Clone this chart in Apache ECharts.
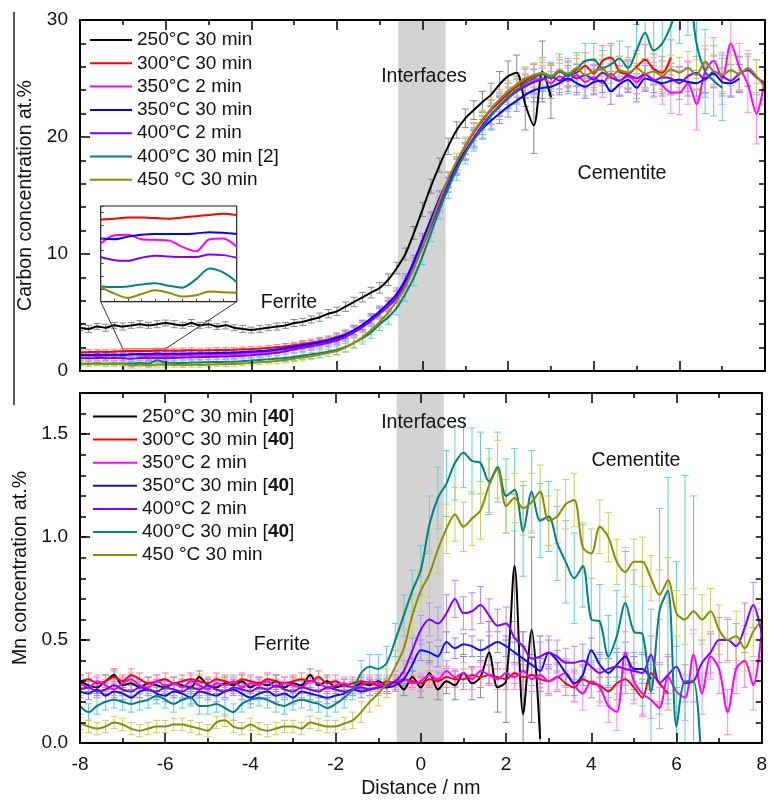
<!DOCTYPE html>
<html><head><meta charset="utf-8">
<script src="https://cdn.jsdelivr.net/npm/echarts@6/dist/echarts.min.js"></script>
<style>html,body{margin:0;padding:0;background:#fff}#c{width:770px;height:803px}</style>
</head><body><div id="c"></div>
<script>
// ---------------- DATA ----------------
const DIST = [-8,-7.8,-7.6,-7.4,-7.2,-7,-6.8,-6.6,-6.4,-6.2,
 -6,-5.8,-5.6,-5.4,-5.2,-5,-4.8,-4.6,-4.4,-4.2,
 -4,-3.8,-3.6,-3.4,-3.2,-3,-2.8,-2.6,-2.4,-2.2,
 -2,-1.8,-1.6,-1.4,-1.2,-1,-0.8,-0.6,-0.4,-0.2,
 0,0.2,0.4,0.6,0.8,1,1.2,1.4,1.6,1.8,
 2,2.2,2.4,2.6,2.8,3,3.2,3.4,3.6,3.8,
 4,4.2,4.4,4.6,4.8,5,5.2,5.4,5.6,5.8,
 6,6.2,6.4,6.6,6.8,7,7.2,7.4,7.6,7.8,
 8];
const X_TICKS = [-8,-6,-4,-2,0,2,4,6,8];
const CARBON_NAMES = ['250°C 30 min','300°C 30 min','350°C 2 min','350°C 30 min','400°C 2 min','400°C 30 min [2]','450 °C 30 min'];
const MN_NAMES = ['250°C 30 min [40]','300°C 30 min [40]','350°C 2 min','350°C 30 min [40]','400°C 2 min','400°C 30 min [40]','450 °C 30 min'];
const INTERFACE_BAND = [-0.57, 0.54];
const INSET_X_RANGE = [-7, -6];
const INSET_Y_RANGE = [0.4, 1.9];

// Carbon concentration (at.%)
const C_250 = [3.7,3.6,3.8,3.7,3.9,3.8,3.9,4.0,3.9,4.0,
 4.1,4.0,3.9,4.1,3.9,4.0,3.8,3.9,3.7,3.6,
 3.5,3.6,3.7,3.8,3.9,4.1,4.2,4.4,4.6,4.9,
 5.1,5.5,5.9,6.3,6.7,7.1,7.8,8.8,10.0,11.8,
 13.8,15.8,17.6,19.2,20.6,21.6,22.3,23.0,23.6,24.5,
 25.2,25.5,22.8,21.0,25.6,23.4,null,null,null,null,
 null,null,null,null,null,null,null,null,null,null,
 null,null,null,null,null,null,null,null,null,null,
 null];
const C_300 = [1.60,1.62,1.65,1.63,1.67,1.69,1.72,1.71,1.72,1.76,
 1.76,1.74,1.76,1.78,1.75,1.77,1.80,1.79,1.82,1.85,
 1.88,1.92,1.97,2.02,2.10,2.20,2.30,2.42,2.55,2.70,
 2.90,3.15,3.50,3.90,4.40,5.00,5.60,6.40,7.60,9.20,
 11.0,12.9,14.7,16.4,17.9,19.2,20.4,21.4,22.3,23.0,
 23.7,24.3,24.8,25.2,25.4,25.0,25.6,25.3,25.5,26.1,
 25.4,26.5,26.8,25.6,25.4,26.0,26.6,25.8,25.5,26.8,
 null,null,null,null,null,null,null,null,null,null,
 null];
const C_350_2 = [1.30,1.32,1.28,1.31,1.34,1.31,1.45,1.37,1.26,1.38,
 1.26,1.32,1.36,1.38,1.40,1.40,1.42,1.45,1.46,1.50,
 1.55,1.60,1.66,1.75,1.86,2.00,2.12,2.25,2.38,2.52,
 2.70,3.00,3.40,3.85,4.40,5.00,5.60,6.40,7.60,9.10,
 10.8,12.6,14.4,16.0,17.5,18.8,20.0,21.0,21.9,22.7,
 23.4,24.0,24.4,24.8,25.0,24.6,25.2,24.8,25.3,24.7,
 25.1,24.6,25.4,24.8,25.2,24.7,25.3,24.9,24.4,23.8,
 23.8,24.6,22.8,25.6,26.5,25.0,28.0,26.0,24.5,22.0,
 25.0];
const C_350_30 = [1.38,1.37,1.40,1.38,1.39,1.39,1.42,1.46,1.46,1.49,
 1.46,1.48,1.47,1.50,1.52,1.52,1.55,1.56,1.58,1.62,
 1.66,1.70,1.76,1.84,1.95,2.08,2.20,2.32,2.45,2.62,
 2.82,3.10,3.50,3.95,4.50,5.10,5.80,6.60,7.80,9.40,
 11.2,13.0,14.8,16.3,17.6,18.8,19.8,20.7,21.4,22.0,
 22.6,23.1,23.6,24.0,24.2,24.3,24.6,25.0,24.6,24.3,
 24.7,24.8,23.9,24.5,24.9,24.2,25.0,24.8,24.6,24.8,
 24.9,24.7,24.6,25.0,25.4,24.7,24.6,25.0,null,null,
 null];
const C_400_2 = [1.10,1.08,1.12,1.09,1.11,1.10,1.04,1.12,1.10,1.14,
 1.09,1.12,1.15,1.17,1.18,1.20,1.22,1.24,1.27,1.31,
 1.35,1.40,1.47,1.56,1.68,1.85,1.98,2.12,2.26,2.42,
 2.60,2.90,3.30,3.75,4.30,4.90,5.50,6.30,7.40,8.90,
 10.6,12.4,14.2,15.9,17.4,18.7,19.9,21.0,21.9,22.6,
 23.3,23.9,24.3,24.7,24.9,25.2,24.8,25.4,25.0,25.3,
 24.9,25.5,25.1,24.8,25.3,25.0,25.4,24.8,25.1,25.0,
 24.6,25.2,25.5,24.9,25.6,25.2,24.8,25.4,25.7,25.1,
 24.6];
const C_400_30 = [0.64,0.62,0.66,0.63,0.65,0.64,0.64,0.69,0.62,0.92,
 0.71,0.70,0.68,0.72,0.73,0.75,0.77,0.78,0.80,0.84,
 0.90,0.95,1.00,1.06,1.12,1.20,1.30,1.42,1.52,1.65,
 1.80,2.05,2.40,2.80,3.30,4.00,4.60,5.40,6.60,8.00,
 9.8,11.8,13.8,15.6,17.2,18.6,19.8,20.8,21.8,22.6,
 23.4,24.0,24.6,25.0,25.4,25.0,25.6,25.2,25.8,26.5,
 26.6,25.9,26.2,26.7,25.9,27.4,28.9,27.4,28.0,29.5,
 31.5,32.5,28.0,25.6,24.8,24.2,null,null,null,null,
 null];
const C_450 = [0.62,0.58,0.64,0.60,0.61,0.63,0.46,0.58,0.48,0.56,
 0.54,0.52,0.50,0.53,0.52,0.55,0.58,0.57,0.60,0.64,
 0.70,0.75,0.80,0.86,0.95,1.05,1.15,1.27,1.40,1.55,
 1.70,2.00,2.40,2.90,3.50,4.20,5.00,6.00,7.20,8.80,
 10.6,12.6,14.6,16.4,17.9,19.3,20.5,21.5,22.4,23.2,
 23.9,24.5,25.0,25.3,25.5,25.2,25.7,25.4,25.9,25.3,
 25.6,25.8,25.2,25.7,25.5,25.9,25.4,25.6,25.2,25.8,
 25.5,25.9,25.3,26.4,25.6,25.3,25.7,25.4,25.9,25.2,
 24.2];

// Carbon error bars (half-length, at.%)
const CE_250 = [0.25,0.3,0.25,0.3,0.25,0.3,0.25,0.3,0.25,0.3,
 0.25,0.3,0.25,0.3,0.25,0.3,0.25,0.3,0.25,0.3,
 0.25,0.3,0.25,0.3,0.25,0.3,0.3,0.3,0.35,0.35,
 0.35,0.4,0.4,0.4,0.45,0.45,0.5,0.5,0.5,0.55,
 0.6,0.6,0.6,0.7,0.7,0.8,0.8,0.9,1.0,1.1,
 1.3,1.5,2.2,2.4,2.6,1.8,null,null,null,null,
 null,null,null,null,null,null,null,null,null,null,
 null,null,null,null,null,null,null,null,null,null,
 null];
const CE_300 = [0.2,0.2,0.2,0.2,0.2,0.2,0.2,0.2,0.2,0.2,
 0.2,0.2,0.2,0.2,0.2,0.2,0.2,0.2,0.2,0.2,
 0.2,0.2,0.2,0.25,0.25,0.25,0.3,0.3,0.3,0.3,
 0.35,0.35,0.4,0.4,0.4,0.45,0.45,0.5,0.5,0.5,
 0.55,0.6,0.6,0.65,0.7,0.7,0.75,0.8,0.8,0.85,
 0.9,0.9,1.0,1.0,1.0,1.1,1.0,1.1,1.2,1.1,
 1.2,1.3,1.2,1.3,1.2,1.4,1.3,1.3,1.4,1.5,
 null,null,null,null,null,null,null,null,null,null,
 null];
const CE_350_2 = [0.2,0.2,0.2,0.2,0.2,0.2,0.2,0.2,0.2,0.2,
 0.2,0.2,0.2,0.2,0.2,0.2,0.2,0.2,0.2,0.2,
 0.2,0.2,0.2,0.25,0.25,0.25,0.3,0.3,0.3,0.3,
 0.35,0.35,0.4,0.4,0.4,0.45,0.45,0.5,0.5,0.5,
 0.55,0.6,0.6,0.65,0.7,0.7,0.75,0.8,0.8,0.85,
 0.9,1.0,1.0,1.0,1.1,1.0,1.1,1.1,1.0,1.2,
 1.1,1.2,1.3,1.2,1.3,1.4,1.3,1.5,1.6,1.8,
 1.9,1.8,2.2,1.9,2.0,2.2,2.3,2.0,2.4,2.6,
 2.2];
const CE_350_30 = [0.2,0.2,0.2,0.2,0.2,0.2,0.2,0.2,0.2,0.2,
 0.2,0.2,0.2,0.2,0.2,0.2,0.2,0.2,0.2,0.2,
 0.2,0.2,0.2,0.25,0.25,0.25,0.3,0.3,0.3,0.3,
 0.35,0.35,0.4,0.4,0.4,0.45,0.45,0.5,0.5,0.5,
 0.55,0.6,0.6,0.65,0.7,0.7,0.75,0.8,0.8,0.85,
 0.9,0.9,1.0,1.0,0.9,1.0,1.0,1.1,1.0,1.0,
 1.1,1.0,1.1,1.0,1.1,1.2,1.1,1.0,1.1,1.2,
 1.1,1.2,1.1,1.2,1.1,1.2,1.1,1.2,null,null,
 null];
const CE_400_2 = [0.2,0.2,0.2,0.2,0.2,0.2,0.2,0.2,0.2,0.2,
 0.2,0.2,0.2,0.2,0.2,0.2,0.2,0.2,0.2,0.2,
 0.2,0.2,0.2,0.25,0.25,0.25,0.3,0.3,0.3,0.3,
 0.35,0.35,0.4,0.4,0.4,0.45,0.45,0.5,0.5,0.5,
 0.55,0.6,0.6,0.65,0.7,0.7,0.75,0.8,0.8,0.85,
 0.9,1.0,1.0,1.1,1.0,1.1,1.0,1.1,1.2,1.1,
 1.2,1.1,1.2,1.3,1.2,1.3,1.2,1.3,1.4,1.3,
 1.4,1.3,1.4,1.5,1.4,1.5,1.4,1.5,1.4,1.5,
 1.4];
const CE_400_30 = [0.2,0.2,0.2,0.2,0.2,0.2,0.2,0.2,0.2,0.2,
 0.2,0.2,0.2,0.2,0.2,0.2,0.2,0.2,0.2,0.2,
 0.2,0.2,0.25,0.25,0.3,0.3,0.3,0.35,0.35,0.4,
 0.4,0.45,0.45,0.5,0.5,0.55,0.6,0.6,0.65,0.7,
 0.7,0.75,0.8,0.85,0.9,0.9,1.0,1.0,1.1,1.1,
 1.2,1.2,1.3,1.3,1.4,1.4,1.5,1.5,1.4,1.5,
 1.4,1.5,1.6,1.5,1.8,2.2,2.6,2.8,3.0,3.2,
 3.5,3.8,4.0,3.6,3.0,2.8,null,null,null,null,
 null];
const CE_450 = [0.2,0.2,0.2,0.2,0.2,0.2,0.2,0.2,0.2,0.2,
 0.2,0.2,0.2,0.2,0.2,0.2,0.2,0.2,0.2,0.2,
 0.2,0.2,0.2,0.25,0.25,0.25,0.3,0.3,0.3,0.3,
 0.35,0.35,0.4,0.4,0.4,0.45,0.45,0.5,0.5,0.5,
 0.55,0.6,0.6,0.65,0.7,0.7,0.75,0.8,0.8,0.85,
 0.9,1.0,1.0,1.0,1.1,1.0,1.1,1.0,1.1,1.2,
 1.1,1.2,1.1,1.2,1.3,1.2,1.3,1.2,1.3,1.2,
 1.3,1.4,1.3,1.4,1.3,1.4,1.3,1.4,1.5,1.4,
 1.5];

// Mn concentration (at.%)
const M_250 = [0.30,0.28,0.27,0.30,0.33,0.28,0.29,0.27,0.29,0.28,
 0.27,0.29,0.28,0.27,0.32,0.28,0.27,0.29,0.28,0.30,
 0.27,0.29,0.28,0.30,0.27,0.29,0.28,0.33,0.28,0.30,
 0.27,0.28,0.27,0.29,0.28,0.30,0.28,0.30,0.26,0.32,
 0.27,0.34,0.26,0.30,0.28,0.34,0.29,0.32,0.44,0.27,
 0.30,0.86,0.14,0.55,0.02,null,null,null,null,null,
 null,null,null,null,null,null,null,null,null,null,
 null,null,null,null,null,null,null,null,null,null,
 null];
const M_300 = [0.30,0.31,0.29,0.30,0.32,0.30,0.33,0.31,0.29,0.30,
 0.31,0.29,0.30,0.31,0.30,0.29,0.31,0.30,0.29,0.31,
 0.30,0.29,0.31,0.30,0.29,0.30,0.31,0.30,0.32,0.29,
 0.30,0.28,0.29,0.30,0.29,0.28,0.30,0.29,0.31,0.30,
 0.29,0.31,0.30,0.32,0.31,0.31,0.33,0.32,0.33,0.32,
 0.31,0.34,0.32,0.33,0.31,0.30,0.32,0.29,0.27,0.31,
 0.29,0.28,0.25,0.29,0.31,0.27,0.22,0.34,0.29,0.24,
 null,null,null,null,null,null,null,null,null,null,
 null];
const M_350_2 = [0.29,0.27,0.30,0.28,0.26,0.29,0.31,0.28,0.27,0.30,
 0.28,0.29,0.27,0.30,0.28,0.26,0.29,0.28,0.30,0.27,
 0.29,0.28,0.30,0.27,0.29,0.28,0.27,0.30,0.29,0.27,
 0.28,0.29,0.27,0.28,0.30,0.29,0.27,0.30,0.31,0.29,
 0.30,0.33,0.31,0.35,0.32,0.34,0.31,0.35,0.33,0.31,
 0.34,0.32,0.35,0.31,0.33,0.30,0.32,0.34,0.28,0.24,
 0.30,0.27,0.18,0.15,0.44,0.30,0.24,0.21,0.17,0.32,
 0.25,0.22,0.43,0.24,0.42,0.36,0.15,0.36,0.40,0.28,
 0.55];
const M_350_30 = [0.25,0.24,0.26,0.23,0.25,0.24,0.22,0.25,0.26,0.24,
 0.23,0.25,0.24,0.22,0.25,0.24,0.23,0.25,0.26,0.24,
 0.22,0.24,0.25,0.23,0.24,0.22,0.25,0.24,0.23,0.22,
 0.23,0.24,0.26,0.25,0.26,0.27,0.27,0.28,0.31,0.38,
 0.45,0.44,0.42,0.49,0.46,0.48,0.47,0.45,0.47,0.49,
 0.47,0.44,0.41,0.38,0.35,0.44,0.40,0.34,0.29,0.33,
 0.45,0.38,0.34,0.38,0.42,0.36,0.36,0.31,null,null,
 null,null,null,null,null,null,null,null,null,null,
 null];
const M_400_2 = [0.26,0.27,0.25,0.26,0.28,0.26,0.25,0.27,0.26,0.25,
 0.27,0.26,0.25,0.27,0.26,0.28,0.26,0.25,0.27,0.26,
 0.25,0.27,0.26,0.28,0.26,0.25,0.27,0.26,0.25,0.27,
 0.26,0.25,0.26,0.27,0.26,0.27,0.28,0.30,0.35,0.45,
 0.55,0.60,0.58,0.63,0.70,0.63,0.64,0.67,0.62,0.57,
 0.58,0.51,0.47,0.41,0.42,0.44,0.42,0.39,0.39,0.40,
 0.37,0.34,0.36,0.37,0.36,0.35,0.34,0.43,0.29,0.33,
 0.37,0.29,0.30,0.39,0.44,0.50,0.50,0.47,0.56,0.67,
 0.53];
const M_400_30 = [0.18,0.15,0.18,0.20,0.21,0.20,0.19,0.20,0.21,0.23,
 0.21,0.19,0.21,0.22,0.18,0.18,0.19,0.17,0.15,0.19,
 0.21,0.22,0.21,0.19,0.18,0.20,0.21,0.20,0.19,0.17,
 0.19,0.22,0.26,0.34,0.37,0.36,0.39,0.50,0.62,0.74,
 0.84,1.06,1.19,1.26,1.36,1.41,1.37,1.36,1.27,1.34,
 1.20,1.23,1.03,1.22,1.08,1.10,0.97,0.88,0.80,0.86,
 0.60,0.59,0.42,0.52,0.68,0.54,0.53,0.25,0.64,0.74,
 0.08,0.30,0.30,-0.20,null,null,null,null,null,null,
 null];
const M_450 = [0.095,0.08,0.07,0.08,0.10,0.09,0.07,0.06,0.07,0.08,
 0.08,0.09,0.09,0.08,0.07,0.06,0.10,0.11,0.08,0.07,
 0.09,0.07,0.06,0.07,0.08,0.08,0.07,0.10,0.09,0.08,
 0.08,0.095,0.11,0.15,0.20,0.24,0.29,0.37,0.46,0.62,
 0.74,0.82,0.94,1.04,1.11,1.05,1.09,1.13,1.25,1.33,
 1.15,1.19,1.14,1.17,1.22,1.08,1.10,1.16,1.18,0.95,
 0.92,1.05,1.00,0.88,0.83,0.88,0.88,0.80,0.72,0.79,
 0.63,0.60,0.64,0.60,0.64,0.55,0.50,0.52,0.46,0.54,
 0.60];

// Mn error bars
const ME_250 = [0.03,0.03,0.03,0.03,0.03,0.03,0.03,0.03,0.03,0.03,
 0.03,0.03,0.03,0.03,0.03,0.03,0.03,0.03,0.03,0.03,
 0.03,0.03,0.03,0.03,0.03,0.03,0.03,0.03,0.03,0.03,
 0.03,0.03,0.03,0.03,0.03,0.03,0.03,0.03,0.03,0.03,
 0.05,0.06,0.05,0.06,0.07,0.08,0.08,0.10,0.15,0.12,
 0.20,0.35,0.40,0.45,0.50,null,null,null,null,null,
 null,null,null,null,null,null,null,null,null,null,
 null,null,null,null,null,null,null,null,null,null,
 null];
const ME_300 = [0.03,0.03,0.03,0.03,0.03,0.03,0.03,0.03,0.03,0.03,
 0.03,0.03,0.03,0.03,0.03,0.03,0.03,0.03,0.03,0.03,
 0.03,0.03,0.03,0.03,0.03,0.03,0.03,0.03,0.03,0.03,
 0.03,0.03,0.03,0.03,0.03,0.03,0.03,0.03,0.03,0.03,
 0.04,0.04,0.04,0.05,0.04,0.05,0.04,0.05,0.05,0.04,
 0.05,0.05,0.06,0.05,0.06,0.06,0.07,0.06,0.07,0.06,
 0.07,0.08,0.07,0.08,0.07,0.08,0.09,0.08,0.09,0.08,
 null,null,null,null,null,null,null,null,null,null,
 null];
const ME_350_2 = [0.03,0.03,0.03,0.03,0.03,0.03,0.03,0.03,0.03,0.03,
 0.03,0.03,0.03,0.03,0.03,0.03,0.03,0.03,0.03,0.03,
 0.03,0.03,0.03,0.03,0.03,0.03,0.03,0.03,0.03,0.03,
 0.03,0.03,0.03,0.03,0.03,0.03,0.03,0.03,0.03,0.03,
 0.04,0.05,0.04,0.05,0.04,0.05,0.05,0.04,0.05,0.05,
 0.05,0.06,0.05,0.06,0.06,0.07,0.06,0.07,0.08,0.08,
 0.08,0.09,0.08,0.09,0.10,0.09,0.10,0.09,0.10,0.11,
 0.10,0.11,0.12,0.10,0.11,0.12,0.11,0.12,0.13,0.12,
 0.13];
const ME_350_30 = [0.03,0.03,0.03,0.03,0.03,0.03,0.03,0.03,0.03,0.03,
 0.03,0.03,0.03,0.03,0.03,0.03,0.03,0.03,0.03,0.03,
 0.03,0.03,0.03,0.03,0.03,0.03,0.03,0.03,0.03,0.03,
 0.03,0.03,0.03,0.03,0.03,0.03,0.03,0.03,0.03,0.03,
 0.05,0.05,0.05,0.05,0.05,0.05,0.05,0.05,0.05,0.05,
 0.05,0.05,0.06,0.05,0.06,0.06,0.05,0.06,0.06,0.05,
 0.06,0.06,0.07,0.06,0.07,0.06,0.07,0.07,null,null,
 null,null,null,null,null,null,null,null,null,null,
 null];
const ME_400_2 = [0.03,0.03,0.03,0.03,0.03,0.03,0.03,0.03,0.03,0.03,
 0.03,0.03,0.03,0.03,0.03,0.03,0.03,0.03,0.03,0.03,
 0.03,0.03,0.03,0.03,0.03,0.03,0.03,0.03,0.03,0.03,
 0.03,0.03,0.03,0.03,0.03,0.04,0.04,0.05,0.05,0.06,
 0.07,0.08,0.08,0.09,0.09,0.08,0.09,0.09,0.08,0.08,
 0.08,0.08,0.07,0.08,0.07,0.08,0.08,0.07,0.08,0.08,
 0.08,0.09,0.08,0.09,0.08,0.09,0.10,0.09,0.10,0.09,
 0.10,0.09,0.10,0.11,0.10,0.11,0.10,0.11,0.12,0.11,
 0.12];
const ME_400_30 = [0.04,0.04,0.04,0.04,0.04,0.04,0.04,0.04,0.04,0.04,
 0.04,0.04,0.04,0.04,0.04,0.04,0.04,0.04,0.04,0.04,
 0.04,0.04,0.04,0.04,0.04,0.04,0.04,0.04,0.04,0.04,
 0.04,0.05,0.05,0.06,0.06,0.07,0.08,0.08,0.10,0.10,
 0.12,0.14,0.15,0.16,0.18,0.17,0.16,0.15,0.16,0.17,
 0.18,0.20,0.22,0.20,0.18,0.17,0.18,0.20,0.22,0.20,
 0.20,0.18,0.20,0.22,0.25,0.30,0.35,0.40,0.50,0.55,
 0.80,1.00,0.90,null,null,null,null,null,null,null,
 null];
const ME_450 = [0.03,0.03,0.03,0.03,0.03,0.03,0.03,0.03,0.03,0.03,
 0.03,0.03,0.03,0.03,0.03,0.03,0.03,0.03,0.03,0.03,
 0.03,0.03,0.03,0.03,0.03,0.03,0.03,0.03,0.03,0.03,
 0.03,0.03,0.04,0.05,0.05,0.06,0.07,0.08,0.09,0.10,
 0.10,0.11,0.12,0.12,0.13,0.12,0.13,0.14,0.13,0.14,
 0.13,0.12,0.13,0.14,0.13,0.12,0.13,0.12,0.13,0.12,
 0.12,0.13,0.12,0.11,0.12,0.11,0.12,0.11,0.12,0.11,
 0.11,0.12,0.11,0.12,0.11,0.12,0.11,0.12,0.11,0.12,
 0.12];

// Inset (carbon, -7 ... -6 nm)
const INSET_DIST = [-7,-6.9,-6.8,-6.7,-6.6,-6.5,-6.4,-6.3,-6.2,-6.1,-6];
const IN_300 = [1.69,1.70,1.72,1.72,1.71,1.70,1.72,1.74,1.76,1.78,1.76];
const IN_350_2 = [1.31,1.44,1.45,1.38,1.37,1.36,1.26,1.19,1.38,1.39,1.26];
const IN_350_30 = [1.39,1.38,1.42,1.45,1.46,1.46,1.46,1.47,1.49,1.48,1.46];
const IN_400_2 = [1.10,1.05,1.04,1.09,1.12,1.11,1.10,1.10,1.14,1.13,1.09];
const IN_400_30 = [0.64,0.63,0.64,0.67,0.69,0.65,0.62,0.75,0.92,0.86,0.71];
const IN_450 = [0.63,0.53,0.46,0.52,0.58,0.54,0.48,0.50,0.56,0.55,0.54];

// ---------------- STYLE ----------------
const FONT = "'Liberation Sans', Arial, Helvetica, sans-serif";
const TXT = '#111';
const C_COLORS = ['#000000','#ff0000','#ff00ff','#0000ff','#8000ff','#008080','#8c8c00'];
const M_COLORS = ['#000000','#ff0000','#ff00ff','#1212e6','#8000ff','#008080','#8c8c00'];
const E_COLORS = ['#8a8a8a','#ff8080','#ff88ff','#8888ff','#bb88ff','#66cccc','#cccc66'];

const check = {C_250,C_300,C_350_2,C_350_30,C_400_2,C_400_30,C_450,CE_250,CE_300,CE_350_2,CE_350_30,CE_400_2,CE_400_30,CE_450,
  M_250,M_300,M_350_2,M_350_30,M_400_2,M_400_30,M_450,ME_250,ME_300,ME_350_2,ME_350_30,ME_400_2,ME_400_30,ME_450};
for (const k in check) if (check[k].length !== DIST.length) throw new Error(k + ' length ' + check[k].length);

const carbonVals = [C_250,C_300,C_350_2,C_350_30,C_400_2,C_400_30,C_450];
const carbonErrs = [CE_250,CE_300,CE_350_2,CE_350_30,CE_400_2,CE_400_30,CE_450];
const mnVals = [M_250,M_300,M_350_2,M_350_30,M_400_2,M_400_30,M_450];
const mnErrs = [ME_250,ME_300,ME_350_2,ME_350_30,ME_400_2,ME_400_30,ME_450];
const insetVals = [IN_300,IN_350_2,IN_350_30,IN_400_2,IN_400_30,IN_450];
const insetColorIdx = [1,2,3,4,5,6];

const AX = {color:'#000', width:2};
function tick(len){ return {show:true, inside:true, length:len, lineStyle:{color:'#000', width:1.5}}; }
const noSplit = {show:false};

const xAxis = [];
const yAxis = [];
function xPair(grid, labels){
  xAxis.push({type:'value', gridIndex:grid, position:'bottom', min:X_TICKS[0], max:X_TICKS[X_TICKS.length-1], interval:2, z:10,
    axisLine:{show:true, onZero:false, lineStyle:AX}, axisTick:tick(10),
    minorTick:{show:true, splitNumber:2, length:5, lineStyle:{color:'#000', width:1.5}},
    axisLabel:{show:labels, margin:12, fontSize:19, color:TXT, fontFamily:FONT},
    splitLine:noSplit,
    name: labels ? 'Distance / nm' : '', nameLocation:'middle', nameGap:36,
    nameTextStyle:{fontSize:19.5, color:TXT, fontFamily:FONT}});
  xAxis.push({type:'value', gridIndex:grid, position:'top', min:-8, max:8, interval:2, z:10,
    axisLine:{show:true, onZero:false, lineStyle:AX}, axisTick:tick(10),
    minorTick:{show:true, splitNumber:2, length:5, lineStyle:{color:'#000', width:1.5}},
    axisLabel:{show:false}, splitLine:noSplit});
}
xPair(0,false);           // x 0,1
xPair(1,true);            // x 2,3
// inset x: 4
xAxis.push({type:'value', gridIndex:2, min:INSET_X_RANGE[0], max:INSET_X_RANGE[1], interval:0.1, z:10,
  axisLine:{show:false}, axisTick:{show:true, inside:true, length:3, lineStyle:{color:'#444', width:1}},
  axisLabel:{show:false}, splitLine:noSplit});
// hidden x for minor grid: 5
xAxis.push({type:'value', gridIndex:3, min:-8, max:8, show:false});

// carbon y: 0 left, 1 right
yAxis.push({type:'value', gridIndex:0, position:'left', min:0, max:30, interval:10, z:10,
  axisLine:{show:true, onZero:false, lineStyle:AX}, axisTick:tick(10),
  minorTick:{show:true, splitNumber:5, length:6, lineStyle:{color:'#000', width:1.5}},
  axisLabel:{margin:12, fontSize:19, color:TXT, fontFamily:FONT}, splitLine:noSplit,
  name:'Carbon concentration at.%', nameLocation:'middle', nameGap:44,
  nameTextStyle:{fontSize:19.5, color:TXT, fontFamily:FONT}});
yAxis.push({type:'value', gridIndex:0, position:'right', min:0, max:30, interval:2, z:10,
  axisLine:{show:true, onZero:false, lineStyle:AX}, axisTick:tick(6),
  axisLabel:{show:false}, splitLine:noSplit});
// Mn y: 2 left, 3 right
yAxis.push({type:'value', gridIndex:1, position:'left', min:0, max:1.7, interval:0.5, z:10,
  axisLine:{show:true, onZero:false, lineStyle:AX}, axisTick:tick(10),
  axisLabel:{margin:12, fontSize:19, color:TXT, fontFamily:FONT, showMaxLabel:false,
    formatter: v => (Math.abs(v*2 - Math.round(v*2)) < 1e-6) ? v.toFixed(1) : ''},
  splitLine:noSplit,
  name:'Mn concentration at.%', nameLocation:'middle', nameGap:44,
  nameTextStyle:{fontSize:19.5, color:TXT, fontFamily:FONT}});
yAxis.push({type:'value', gridIndex:1, position:'right', min:0, max:1.7, interval:0.1, z:10,
  axisLine:{show:true, onZero:false, lineStyle:AX}, axisTick:tick(6),
  axisLabel:{show:false}, splitLine:noSplit});
// inset y: 4
yAxis.push({type:'value', gridIndex:2, min:INSET_Y_RANGE[0], max:INSET_Y_RANGE[1], interval:0.2, z:10,
  axisLine:{show:false}, axisTick:{show:true, inside:true, length:3, lineStyle:{color:'#444', width:1}},
  axisLabel:{show:false}, splitLine:noSplit});
// Mn minor ticks (left): 5
yAxis.push({type:'value', gridIndex:3, position:'left', min:0, max:1.7, interval:0.1, z:10,
  axisLine:{show:false, onZero:false}, axisTick:tick(6), axisLabel:{show:false}, splitLine:noSplit});

const grid = [
  {left:80, right:5, top:20, height:351},
  {left:80, right:5, top:393, height:350},
  {left:100.7, top:206, width:136, height:95.7, show:true, backgroundColor:'#fff', borderColor:'#222', borderWidth:1.2, z:5},
  {left:80, right:5, top:393, height:350}
];

function errSeries(xi, yi, xs, vals, errs, color){
  const data = [];
  xs.forEach((x,i)=>{ if (vals[i]!=null && errs[i]!=null) data.push([x, vals[i]-errs[i], vals[i]+errs[i]]); });
  return {type:'custom', xAxisIndex:xi, yAxisIndex:yi, data, clip:true, silent:true, z:1,
    encode:{x:0, y:[1,2]},
    renderItem(params, api){
      const x = api.value(0);
      const lo = api.coord([x, api.value(1)]);
      const hi = api.coord([x, api.value(2)]);
      const hw = 3.5, st = {stroke:color, lineWidth:1};
      return {type:'group', children:[
        {type:'line', shape:{x1:lo[0], y1:lo[1], x2:hi[0], y2:hi[1]}, style:st},
        {type:'line', shape:{x1:lo[0]-hw, y1:lo[1], x2:lo[0]+hw, y2:lo[1]}, style:st},
        {type:'line', shape:{x1:hi[0]-hw, y1:hi[1], x2:hi[0]+hw, y2:hi[1]}, style:st}
      ]};
    }};
}
function lineSeries(name, xi, yi, xs, vals, color, z){
  return {type:'line', name, xAxisIndex:xi, yAxisIndex:yi, data:xs.map((x,i)=>[x, vals[i]]),
    showSymbol:false, symbol:'none', smooth:0.3, clip:true, z:z||2, color,
    lineStyle:{color, width:2}, emphasis:{disabled:true}, silent:true};
}

const series = [];
// interface bands
[[0,0],[2,2]].forEach(([xi,yi])=>{
  series.push({type:'line', xAxisIndex:xi, yAxisIndex:yi, data:[], z:0, silent:true,
    markArea:{silent:true, itemStyle:{color:'#d3d3d3'}, data:[[{xAxis:INTERFACE_BAND[0]},{xAxis:INTERFACE_BAND[1]}]]}});
});
// error bars
carbonVals.forEach((v,k)=>series.push(errSeries(0,0,DIST,v,carbonErrs[k],E_COLORS[k])));
mnVals.forEach((v,k)=>series.push(errSeries(2,2,DIST,v,mnErrs[k],E_COLORS[k])));
// lines
carbonVals.forEach((v,k)=>series.push(lineSeries(CARBON_NAMES[k],0,0,DIST,v,C_COLORS[k])));
mnVals.forEach((v,k)=>series.push(lineSeries(MN_NAMES[k],2,2,DIST,v,M_COLORS[k])));
// zoom rectangle
series.push({type:'line', xAxisIndex:0, yAxisIndex:0, data:[], z:4, silent:true,
  markArea:{silent:true, itemStyle:{color:'rgba(140,140,140,0.18)', borderColor:'#666', borderWidth:1},
    data:[[{coord:[INSET_X_RANGE[0],0]},{coord:[INSET_X_RANGE[1],INSET_Y_RANGE[1]]}]]}});
// inset lines
insetVals.forEach((v,k)=>series.push(lineSeries('', 4, 4, INSET_DIST, v, C_COLORS[insetColorIdx[k]], 6)));

const legendText = {fontSize:19, color:TXT, fontFamily:FONT,
  rich:{b:{fontSize:19, fontWeight:'bold', color:TXT, fontFamily:FONT}}};
const legend = [
  {data:CARBON_NAMES, orient:'vertical', left:90, top:30.5, padding:0, itemWidth:42, itemHeight:2, itemGap:4.3,
   icon:'rect', selectedMode:false, textStyle:legendText},
  {data:MN_NAMES.map((n,k)=>({name:n, itemStyle:{color: k===3 ? '#1a1a80' : M_COLORS[k]}})),
   orient:'vertical', left:93, top:407, padding:0, itemWidth:44, itemHeight:2, itemGap:4.1,
   icon:'rect', selectedMode:false, textStyle:legendText,
   formatter: n => n.replace('[40]', '[{b|40}]')}
];

function label(id, text, x, y){
  return {type:'text', id, x, y, z:20, style:{text, fontSize:19.5, fontFamily:FONT, fill:TXT, align:'center', verticalAlign:'middle'}};
}
const graphic = [
  {type:'line', id:'edge', shape:{x1:14, y1:12, x2:14, y2:405}, style:{stroke:'#222', lineWidth:1.5}},
  label('i1','Interfaces',424,77), label('c1','Cementite',622,174), label('f1','Ferrite',289,303),
  label('i2','Interfaces',424,423), label('c2','Cementite',636,461), label('f2','Ferrite',282,645)
];

const chart = echarts.init(document.getElementById('c'));
chart.setOption({animation:false, backgroundColor:'#fff', grid, xAxis, yAxis, series, legend, graphic});

// connector lines between zoom rectangle and inset
const r1 = chart.convertToPixel({gridIndex:0}, [INSET_X_RANGE[0], INSET_Y_RANGE[1]]);
const r2 = chart.convertToPixel({gridIndex:0}, [INSET_X_RANGE[1], INSET_Y_RANGE[1]]);
const b1 = chart.convertToPixel({gridIndex:2}, [INSET_X_RANGE[0], INSET_Y_RANGE[0]]);
const b2 = chart.convertToPixel({gridIndex:2}, [INSET_X_RANGE[1], INSET_Y_RANGE[0]]);
chart.setOption({graphic:[
  {type:'line', id:'k1', z:6, shape:{x1:b1[0], y1:b1[1], x2:r1[0], y2:r1[1]}, style:{stroke:'#333', lineWidth:1}},
  {type:'line', id:'k2', z:6, shape:{x1:b2[0], y1:b2[1], x2:r2[0], y2:r2[1]}, style:{stroke:'#333', lineWidth:1}}
]});
</script></body></html>
